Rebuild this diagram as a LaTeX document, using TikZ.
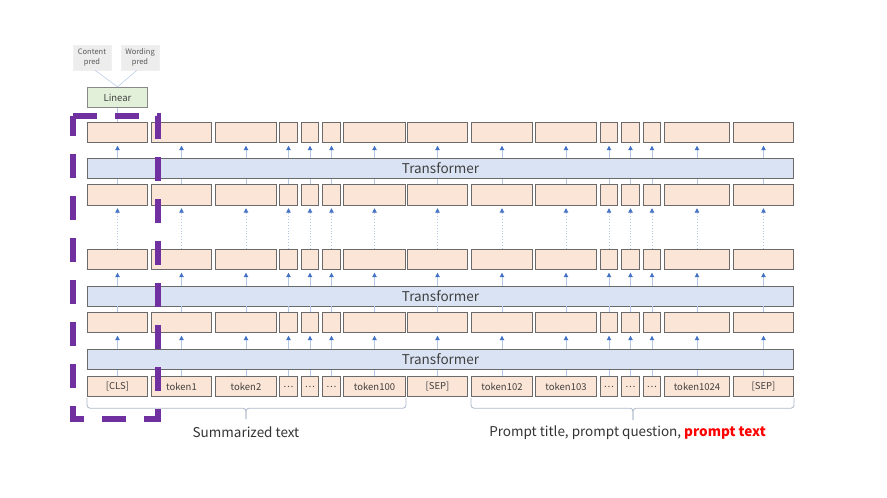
\documentclass[tikz,border=0pt]{standalone}
\usepackage{fontspec}
\setmainfont{Noto Sans CJK JP}
\usetikzlibrary{arrows.meta,positioning}

\definecolor{tokfill}{HTML}{FBE5D6}
\definecolor{transfill}{HTML}{DAE3F3}
\definecolor{linfill}{HTML}{E2F0D9}
\definecolor{predfill}{HTML}{EDEDED}
\definecolor{boxedge}{HTML}{6A6A6A}
\definecolor{labelgray}{HTML}{404040}
\definecolor{flowline}{HTML}{B4C7E7}
\definecolor{flowtip}{HTML}{4472C4}
\definecolor{clsmark}{HTML}{7030A0}
\definecolor{bracketgray}{HTML}{ADB9CA}
\definecolor{promptred}{HTML}{FF0000}

\begin{document}
\begin{tikzpicture}[x=1pt, y=-1pt,
  tok/.style={draw=boxedge, line width=0.9pt, fill=tokfill, inner sep=0pt,
    minimum height=20.5pt, text=labelgray, font=\fontsize{9.5}{11}\selectfont},
  trans/.style={draw=boxedge, line width=0.9pt, fill=transfill, inner sep=0pt,
    minimum width=706pt, minimum height=20pt, text=labelgray, font=\fontsize{13.5}{15}\selectfont},
  linbox/.style={draw=boxedge!80, line width=0.8pt, fill=linfill, inner sep=0pt,
    minimum width=60pt, minimum height=20.5pt, text=labelgray, font=\fontsize{9.5}{11}\selectfont},
  predbox/.style={draw=black!6, fill=predfill, inner sep=0pt, align=center,
    minimum width=38pt, minimum height=25pt, text=black!65, font=\fontsize{7.5}{10}\selectfont},
  feed/.style={draw=flowline, line width=0.9pt},
  flowarrow/.style={feed, -{Triangle[length=4.5pt, width=4.5pt, color=flowtip]}, shorten >=2.5pt},
  skiparrow/.style={flowarrow, dotted},
  bracket/.style={draw=bracketgray, line width=0.8pt, rounded corners=3pt},
  caption/.style={text=black!80, font=\fontsize{13.5}{15}\selectfont}]

\useasboundingbox (0,0) rectangle (887,498);

% ==== Token columns (input row + hidden rows) ====
\foreach \c/\xa/\xb/\lab in {1/87/148/{[CLS]}, 2/151/212/token1, 3/215/277/token2,
    4/279/298/⋯, 5/301/319/⋯, 6/322/341/⋯, 7/343/406/token100, 8/407/468/{[SEP]},
    9/471/533/token102, 10/535/597/token103, 11/600/618/⋯, 12/621/640/⋯,
    13/643/661/⋯, 14/664/730/token1024, 15/733/794/{[SEP]}}
{
    \pgfmathsetmacro{\xc}{(\xa+\xb)/2}
    \pgfmathsetmacro{\boxw}{\xb-\xa-1}
    \node[tok, minimum width=\boxw pt] (r0-\c) at (\xc,386.5) {\lab};
    \foreach \r/\y in {1/322.5, 2/259.5, 3/195, 4/132.5}
        \node[tok, minimum width=\boxw pt] (r\r-\c) at (\xc,\y) {};
}

% ==== Transformer layers ====
\node[trans] (t1) at (440.5,359.5) {Transformer};
\node[trans] (t2) at (440.5,296) {Transformer};
\node[trans] (t3) at (440.5,168.5) {Transformer};

% Flow between rows
\foreach \c in {1,...,15} {
    \draw[feed] (r0-\c.north) -- (r0-\c.north |- t1.south);
    \draw[flowarrow] (r0-\c.north |- t1.north) -- (r1-\c.south);
    \draw[feed] (r1-\c.north) -- (r1-\c.north |- t2.south);
    \draw[flowarrow] (r1-\c.north |- t2.north) -- (r2-\c.south);
    \draw[skiparrow] (r2-\c.north) -- (r3-\c.south);
    \draw[feed] (r3-\c.north) -- (r3-\c.north |- t3.south);
    \draw[flowarrow] (r3-\c.north |- t3.north) -- (r4-\c.south);
}

% ==== Head on [CLS] ====
\node[linbox] (lin) at (117.5,97.5) {Linear};
\node[predbox] (cpred) at (92,57.5) {Content\\pred};
\node[predbox] (wpred) at (140,57.5) {Wording\\pred};
\draw[feed, line width=0.5pt] (lin.north) -- ([xshift=3pt]cpred.south);
\draw[feed, line width=0.5pt] (lin.north) -- ([xshift=-3pt]wpred.south);
\draw[feed] (lin.south) -- (r4-1.north);

% Highlight of the [CLS] column
\draw[clsmark, line width=6pt, dash pattern=on 24pt off 18pt]
    (73,116) -- (158,116) -- (158,419) -- (73,419) -- cycle;

% ==== Brackets and captions ====
\coordinate (sumtip) at (246,419);
\coordinate (prmtip) at (633,420);
\draw[bracket] ([yshift=-1pt]r0-1.south west) -- ++(0,10) -| (sumtip);
\draw[bracket] ([yshift=-1pt]r0-7.south east) -- ++(0,10) -| (sumtip);
\draw[bracket] ([yshift=-1pt]r0-9.south west) -- ++(0,10) -| (prmtip);
\draw[bracket] ([yshift=-1pt]r0-15.south east) -- ++(0,10) -| (prmtip);

\node[caption] (sumtxt) at (246,432.5) {Summarized text};
\node[caption] (prmtxt) at (627.5,432.5)
    {Prompt title, prompt question, \textcolor{promptred}{\textbf{prompt text}}};

\end{tikzpicture}
\end{document}
